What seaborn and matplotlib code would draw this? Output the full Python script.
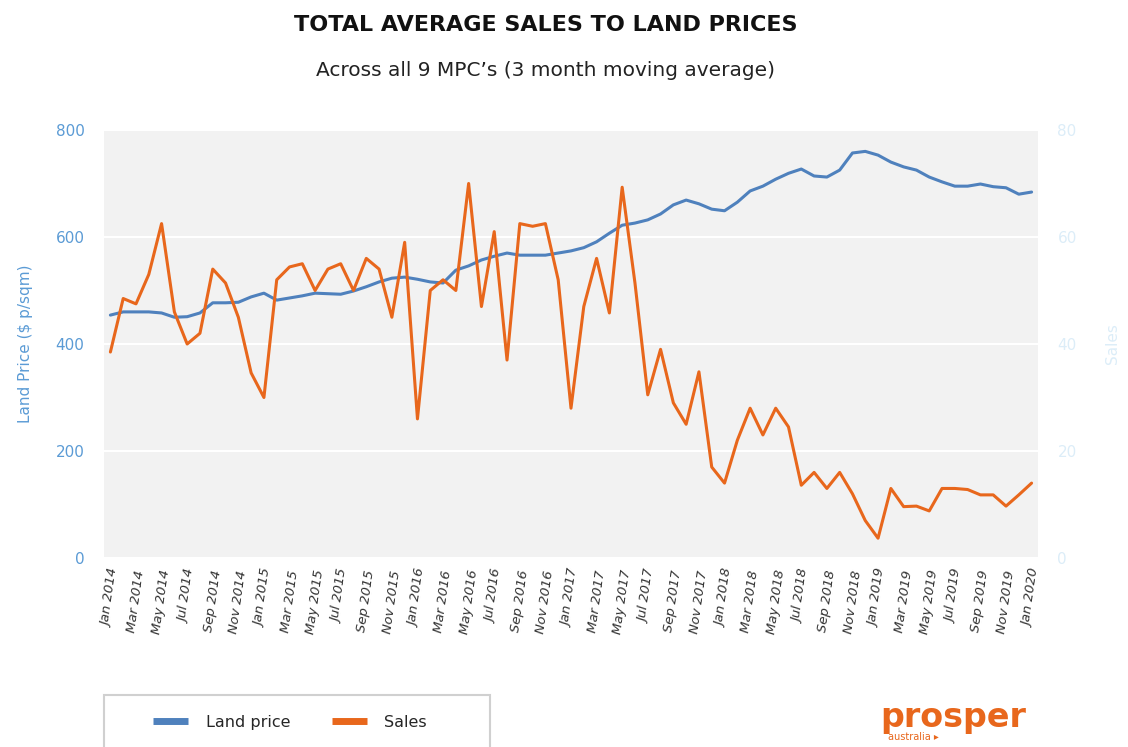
from __future__ import annotations

import matplotlib
matplotlib.use("Agg")
import matplotlib.pyplot as plt
import pandas as pd
import seaborn as sns
from matplotlib.patches import Rectangle


# Monthly values, Jan 2014 .. Jan 2020 (3 month moving average)
MONTHS = pd.date_range("2014-01-01", periods=73, freq="MS")

LAND_PRICE = [
    454, 460, 460, 460, 458, 450, 451, 458, 477, 477, 478, 488,
    495, 482, 486, 490, 495, 494, 493, 499, 507, 516, 523, 525,
    521, 516, 514, 538, 546, 557, 564, 570, 566, 566, 566, 570,
    574, 580, 591, 607, 622, 626, 632, 643, 660, 669, 662, 652,
    649, 665, 686, 695, 708, 719, 727, 714, 712, 725, 757, 760,
    753, 740, 731, 725, 712, 703, 695, 695, 699, 694, 692, 680,
    684,
]

SALES = [
    38.5, 48.5, 47.5, 53.0, 62.5, 46.0, 40.0, 42.0, 54.0, 51.4, 45.0, 34.6,
    30.0, 52.0, 54.4, 55.0, 50.0, 54.0, 55.0, 50.0, 56.0, 54.0, 45.0, 59.0,
    26.0, 50.0, 52.0, 50.0, 70.0, 47.0, 61.0, 37.0, 62.5, 62.0, 62.5, 52.0,
    28.0, 47.0, 56.0, 45.8, 69.3, 51.4, 30.5, 39.0, 29.0, 25.0, 34.8, 17.0,
    14.0, 22.0, 28.0, 23.0, 28.0, 24.5, 13.6, 16.0, 13.0, 16.0, 12.0, 7.0,
    3.7, 13.0, 9.6, 9.7, 8.8, 13.0, 13.0, 12.8, 11.8, 11.8, 9.7, 11.8,
    14.0,
]

BLUE = "#4f81bd"
ORANGE = "#e8671c"
AXIS_BLUE = "#5b9bd5"
PALE_BLUE = "#dcedf8"


def set_style() -> None:
    sns.set_theme(style="white")
    plt.rcParams.update({
        "font.family": ["DejaVu Sans"],
        "axes.facecolor": "#f2f2f2",
        "figure.facecolor": "white",
    })


def build_figure() -> plt.Figure:
    df = pd.DataFrame({
        "month": range(len(MONTHS)),
        "land_price": LAND_PRICE,
        "sales": SALES,
    })

    fig = plt.figure(figsize=(11.28, 7.47), dpi=100)
    ax = fig.add_axes([0.0922, 0.253, 0.828, 0.573])
    ax2 = ax.twinx()

    sns.lineplot(data=df, x="month", y="land_price", ax=ax, color=BLUE,
                 linewidth=2.2, label="Land price", legend=False)
    sns.lineplot(data=df, x="month", y="sales", ax=ax2, color=ORANGE,
                 linewidth=2.2, label="Sales", legend=False)

    # left axis: land price
    ax.set_ylim(0, 800)
    ax.set_yticks(range(0, 801, 200))
    ax.yaxis.grid(True, color="white", linewidth=1.5)
    ax.set_axisbelow(True)
    ax.tick_params(axis="y", colors=AXIS_BLUE, labelsize=11, length=0, pad=14)
    ax.set_ylabel("Land Price ($ p/sqm)", color=AXIS_BLUE, fontsize=11, labelpad=16)

    # right axis: sales
    ax2.set_ylim(0, 80)
    ax2.set_yticks(range(0, 81, 20))
    ax2.tick_params(axis="y", colors=PALE_BLUE, labelsize=11, length=0, pad=14)
    ax2.set_ylabel("Sales", color=PALE_BLUE, fontsize=11, labelpad=20)
    ax2.grid(False)

    # x axis: every second month
    ax.set_xlim(-0.5, len(MONTHS) - 0.5)
    tick_pos = list(range(0, len(MONTHS), 2))
    ax.set_xticks(tick_pos)
    ax.set_xticklabels([MONTHS[i].strftime("%b %Y") for i in tick_pos],
                       rotation=82, fontsize=9.5, style="italic", color="#333333")
    ax.tick_params(axis="x", length=0, pad=8)
    ax.set_xlabel("")

    for a in (ax, ax2):
        for spine in a.spines.values():
            spine.set_visible(False)

    fig.text(0.484, 0.967, "TOTAL AVERAGE SALES TO LAND PRICES", ha="center",
             va="center", fontsize=16, fontweight="bold", color="#111111")
    fig.text(0.484, 0.905, "Across all 9 MPC\u2019s (3 month moving average)",
             ha="center", va="center", fontsize=14.5, color="#222222")

    # legend box running off the bottom edge
    fig.patches.append(Rectangle((0.0922, -0.02), 0.342, 0.0896,
                                 transform=fig.transFigure, facecolor="white",
                                 edgecolor="#d0d0d0", linewidth=1.5))
    handles = ax.get_lines()[:1] + ax2.get_lines()[:1]
    leg = fig.legend(handles, ["Land price", "Sales"], loc="center",
                     bbox_to_anchor=(0.257, 0.033), ncol=2, fontsize=11.5,
                     frameon=False, handlelength=2.2, columnspacing=2.6,
                     handletextpad=1.1)
    for line in leg.get_lines():
        line.set_linewidth(5)
        line.set_solid_capstyle("butt")

    fig.text(0.845, 0.04, "prosper", ha="center", va="center", fontsize=24,
             fontweight="bold", color=ORANGE, family=["DejaVu Sans"])
    fig.text(0.787, 0.013, "australia \u25b8", ha="left", va="center",
             fontsize=7, color=ORANGE)

    return fig


def main() -> None:
    set_style()
    fig = build_figure()
    fig.savefig("out.png", dpi=100, facecolor="white")


if __name__ == "__main__":
    main()
